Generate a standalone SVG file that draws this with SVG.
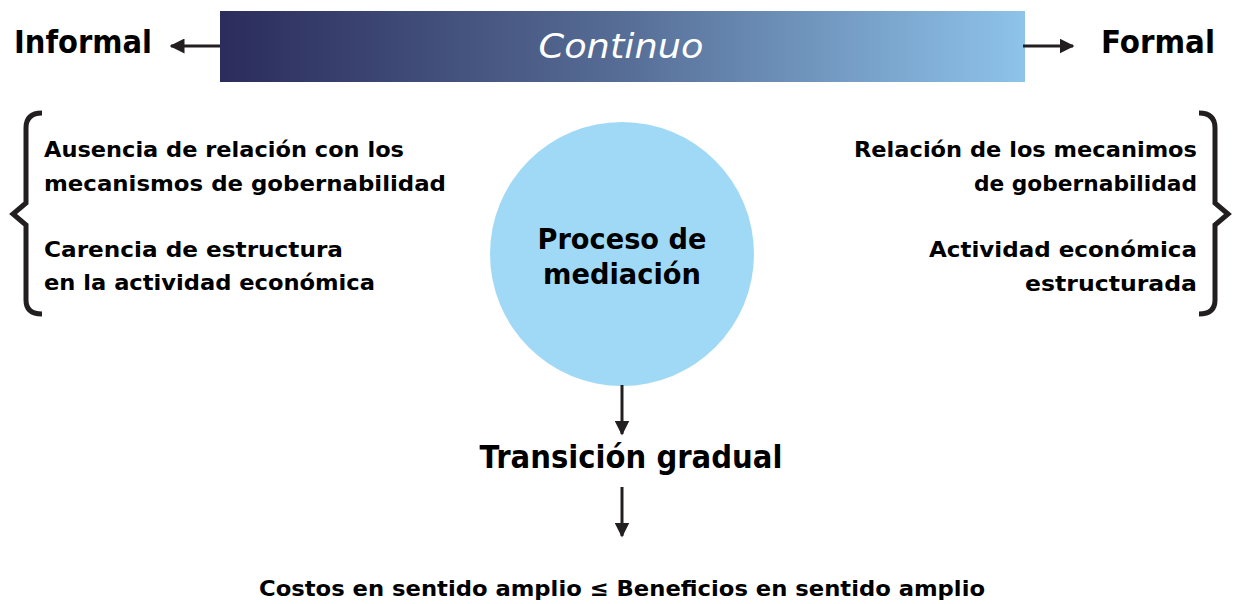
<svg xmlns="http://www.w3.org/2000/svg" width="1241" height="604" viewBox="0 0 1241 604">
<style>
text{font-family:"DejaVu Sans","Liberation Sans",sans-serif;font-weight:700;fill:#000}
.side{font-size:22px}
.big{font-size:32px}
.circ{font-size:28px}
.conn{stroke:#231f20;stroke-width:3;fill:none}
.brace{stroke:#231f20;stroke-width:5;fill:none;stroke-linejoin:miter}
</style>
<defs>
<linearGradient id="g" x1="0" y1="0" x2="1" y2="0">
<stop offset="0" stop-color="#2b2c5b"/>
<stop offset="0.5" stop-color="#566d96"/>
<stop offset="1" stop-color="#8ec3ea"/>
</linearGradient>
<marker id="ah" viewBox="0 0 10 10" refX="9" refY="5" markerWidth="5" markerHeight="5" orient="auto" markerUnits="strokeWidth">
<path d="M0,0 L10,5 L0,10 z" fill="#231f20"/>
</marker>
</defs>
<g id="continuo">
<rect x="220" y="11" width="805" height="71" fill="url(#g)"/>
<text x="621" y="58" text-anchor="middle" style="font-size:34px;font-style:italic;font-weight:400;fill:#fff" textLength="165" lengthAdjust="spacingAndGlyphs">Continuo</text>
</g>
<g id="informal"><text x="14" y="53" class="big" textLength="138" lengthAdjust="spacingAndGlyphs">Informal</text></g>
<g id="formal"><text x="1101" y="53" class="big" textLength="114" lengthAdjust="spacingAndGlyphs">Formal</text></g>
<g id="left">
<path class="brace" d="M42,113 Q26,113 26,128 L26,203 L13,214 L26,225 L26,300 Q26,314 42,314"/>
<text class="side" x="44" y="157" textLength="360" lengthAdjust="spacingAndGlyphs">Ausencia de relación con los</text>
<text class="side" x="44" y="191" textLength="402" lengthAdjust="spacingAndGlyphs">mecanismos de gobernabilidad</text>
<text class="side" x="44" y="257" textLength="299" lengthAdjust="spacingAndGlyphs">Carencia de estructura</text>
<text class="side" x="44" y="290" textLength="331" lengthAdjust="spacingAndGlyphs">en la actividad económica</text>
</g>
<g id="right">
<path class="brace" d="M1199,113 Q1215,113 1215,128 L1215,203 L1228,214 L1215,225 L1215,300 Q1215,314 1199,314"/>
<text class="side" x="1197" y="157" text-anchor="end" textLength="343" lengthAdjust="spacingAndGlyphs">Relación de los mecanimos</text>
<text class="side" x="1197" y="191" text-anchor="end" textLength="223" lengthAdjust="spacingAndGlyphs">de gobernabilidad</text>
<text class="side" x="1197" y="257" text-anchor="end" textLength="268" lengthAdjust="spacingAndGlyphs">Actividad económica</text>
<text class="side" x="1197" y="291" text-anchor="end" textLength="172" lengthAdjust="spacingAndGlyphs">estructurada</text>
</g>
<g id="mediacion">
<circle cx="622" cy="254" r="132" fill="#a0d9f5"/>
<text class="circ" x="622" y="249" text-anchor="middle" textLength="169" lengthAdjust="spacingAndGlyphs">Proceso de</text>
<text class="circ" x="622" y="284" text-anchor="middle" textLength="158" lengthAdjust="spacingAndGlyphs">mediación</text>
</g>
<g id="transicion"><text class="big" x="631" y="468" text-anchor="middle" textLength="303" lengthAdjust="spacingAndGlyphs">Transición gradual</text></g>
<g id="resultado"><text class="side" x="622" y="596" text-anchor="middle" textLength="726" lengthAdjust="spacingAndGlyphs">Costos en sentido amplio ≤ Beneficios en sentido amplio</text></g>
<g id="connectors">
<line class="conn" x1="220" y1="46" x2="171" y2="46" marker-end="url(#ah)"/>
<line class="conn" x1="1023" y1="46" x2="1073" y2="46" marker-end="url(#ah)"/>
<line class="conn" x1="622" y1="385" x2="622" y2="434" marker-end="url(#ah)"/>
<line class="conn" x1="622" y1="487" x2="622" y2="536" marker-end="url(#ah)"/>
</g>
</svg>
